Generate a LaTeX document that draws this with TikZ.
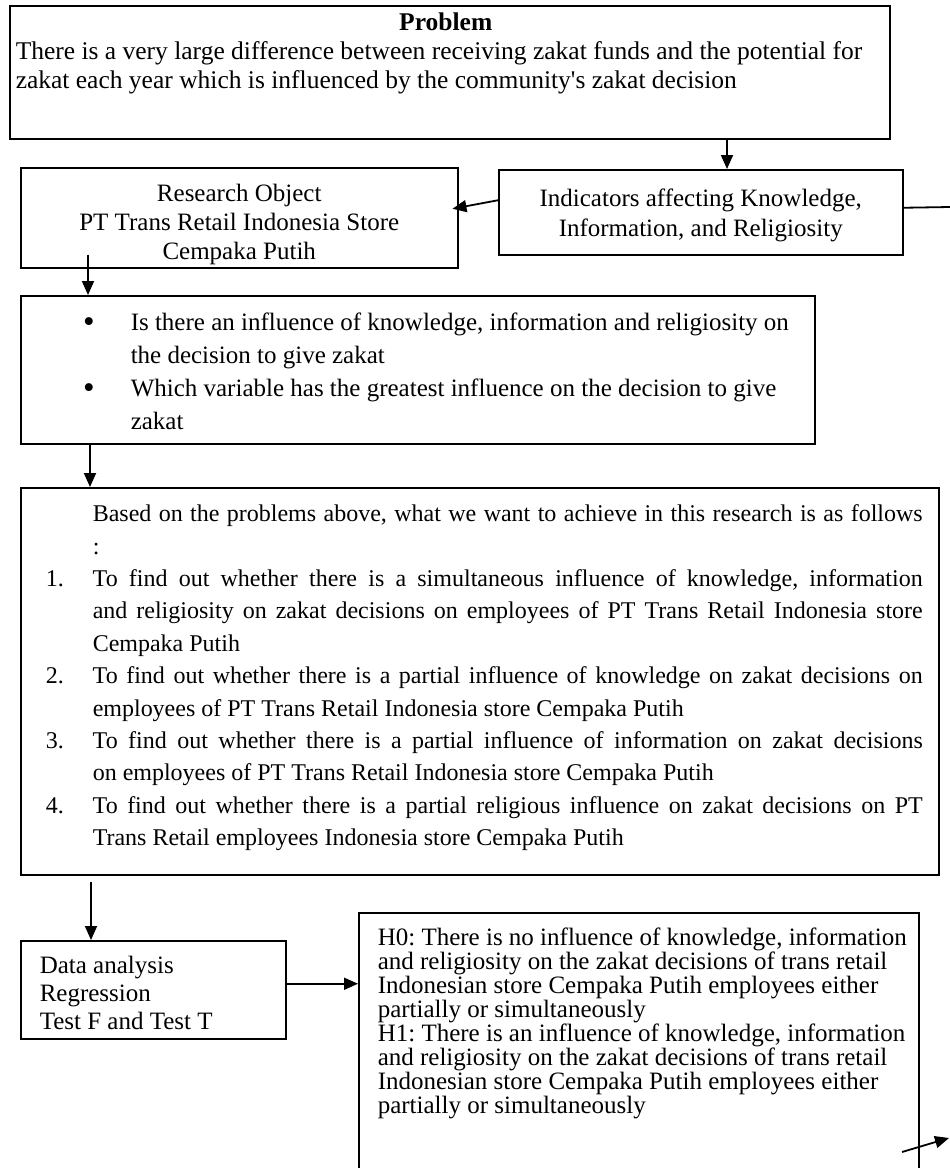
\documentclass[tikz,border=0pt]{standalone}
\usepackage{fontspec}
\setmainfont{Liberation Serif}
\usetikzlibrary{arrows.meta}
\frenchspacing

\tikzset{
  box/.style={draw, line width=1.5pt, anchor=north west, inner sep=0pt,
    font=\fontsize{25}{29}\selectfont},
  arr/.style={line width=1.8pt, -{Triangle[length=14pt,width=12pt]}}
}
\newcommand{\qbullet}{\leavevmode\llap{\raisebox{-2pt}{\fontsize{33}{33}\selectfont\textbullet}\hspace{36pt}}}
\newcommand{\objnum}[1]{\leavevmode\llap{\makebox[47pt][l]{#1}}}

\begin{document}
\begin{tikzpicture}[x=1pt,y=-1pt]
  \useasboundingbox (0,0) rectangle (950,1168);
  \clip (0,0) rectangle (950,1168);
  % problem statement
  \node[box, text height=25pt, text depth=108pt, font=\fontsize{25.5}{29}\selectfont] (prob) at (9,5)
    {\parbox[t]{880pt}{\raggedright\leftskip=6pt
     \makebox[860pt]{\textbf{Problem}}\\
     There is a very large difference between receiving zakat funds and the potential for\\
     zakat each year which is influenced by the community\textquotesingle s zakat decision}};
  % object and indicators
  \node[box, text height=34pt, text depth=66pt] (robj) at (20,167)
    {\parbox[t]{437pt}{\centering Research Object\\PT Trans Retail Indonesia Store\\Cempaka Putih}};
  \node[box, text height=37pt, text depth=48pt, font=\fontsize{25}{30}\selectfont] (indic) at (498,169)
    {\parbox[t]{404pt}{\centering Indicators affecting Knowledge,\\Information, and Religiosity}};
  % research questions
  \node[box, text height=35pt, text depth=113pt, font=\fontsize{25}{33}\selectfont] (quest) at (20,295)
    {\parbox[t]{794pt}{\raggedright\leftskip=110pt
     \qbullet Is there an influence of knowledge, information and religiosity on\\
     the decision to give zakat\\
     \qbullet Which variable has the greatest influence on the decision to give\\
     zakat}};
  % objectives
  \node[box, text height=34pt, text depth=353pt, font=\fontsize{24}{32.4}\selectfont] (obj) at (20,487)
    {\parbox[t]{918pt}{\leftskip=72pt\rightskip=16pt
     Based on the problems above, what we want to achieve in this research is as follows\linebreak
     :\\
     \objnum{1.}To find out whether there is a simultaneous influence of knowledge, information\linebreak
     and religiosity on zakat decisions on employees of PT Trans Retail Indonesia store\linebreak
     Cempaka Putih\\
     \objnum{2.}To find out whether there is a partial influence of knowledge on zakat decisions on\linebreak
     employees of PT Trans Retail Indonesia store Cempaka Putih\\
     \objnum{3.}To find out whether there is a partial influence of information on zakat decisions\linebreak
     on employees of PT Trans Retail Indonesia store Cempaka Putih\\
     \objnum{4.}To find out whether there is a partial religious influence on zakat decisions on PT\linebreak
     Trans Retail employees Indonesia store Cempaka Putih}};
  % analysis and hypotheses
  \node[box, text height=33pt, text depth=65pt, font=\fontsize{25}{28}\selectfont] (data) at (20,940)
    {\parbox[t]{265pt}{\raggedright\leftskip=19pt
     Data analysis\\Regression\\Test F and Test T}};
  \node[box, text height=33pt, text depth=250pt, font=\fontsize{25}{24}\selectfont] (hyp) at (358,912)
    {\parbox[t]{560pt}{\raggedright\leftskip=19pt
     H0: There is no influence of knowledge, information\\
     and religiosity on the zakat decisions of trans retail\\
     Indonesian store Cempaka Putih employees either\\
     partially or simultaneously\\
     H1: There is an influence of knowledge, information\\
     and religiosity on the zakat decisions of trans retail\\
     Indonesian store Cempaka Putih employees either\\
     partially or simultaneously}};
  % connectors
  \coordinate (rightend) at (950,207);
  \coordinate (hout) at (902,1152);
  \coordinate (hend) at (949,1138);
  \draw[arr] ([xshift=718pt]prob.south west) -- ([xshift=718pt]prob.south west |- indic.north);
  \draw[arr] ([yshift=12pt]indic.west) -- ([xshift=-6pt,yshift=9pt]robj.east);
  \draw[line width=1.8pt] ([yshift=4.5pt]indic.east) -- (rightend);
  \draw[arr] ([xshift=68pt,yshift=14pt]robj.south west) -- ([xshift=68pt]quest.north west);
  \draw[arr] ([xshift=70pt]quest.south west) -- ([xshift=70pt]obj.north west);
  \draw[arr] ([xshift=71pt,yshift=-6pt]obj.south west) -- ([xshift=71pt]data.north west);
  \draw[arr] ([yshift=6pt]data.east) -- ([yshift=6pt]data.east -| hyp.west);
  \draw[arr] (hout) -- (hend);
\end{tikzpicture}
\end{document}
